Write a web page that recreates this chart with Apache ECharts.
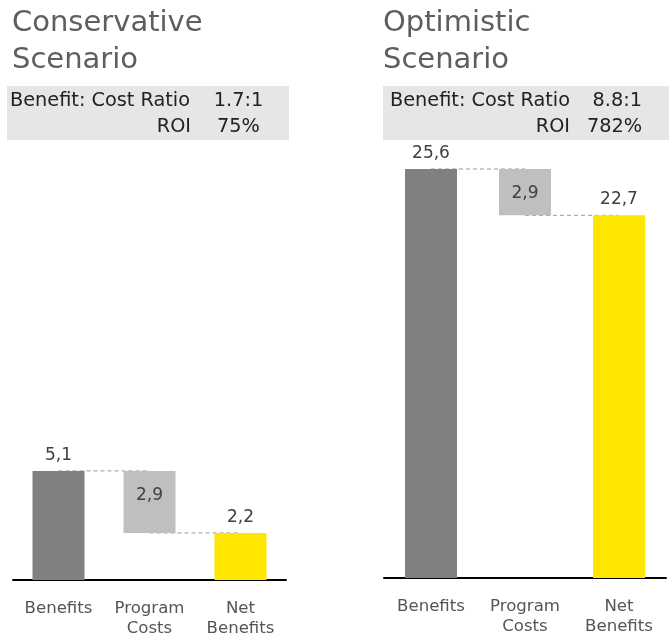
<!DOCTYPE html>
<html>
<head>
<meta charset="utf-8">
<script src="https://cdn.jsdelivr.net/npm/echarts@6/dist/echarts.min.js"></script>
<style>html,body{margin:0;padding:0;background:#fff}#c{width:669px;height:637px}</style>
</head>
<body>
<div id="c"></div>
<script>
var categories = ['Benefits', 'Program\nCosts', 'Net\nBenefits'];
var conservativeValues = [5.1, 2.9, 2.2];
var optimisticValues = [25.6, 2.9, 22.7];
var conservativeRatio = '1.7:1';
var conservativeROI = '75%';
var optimisticRatio = '8.8:1';
var optimisticROI = '782%';

var FONT = 'DejaVu Sans';
var barColors = ['#808080', '#bfbfbf', '#ffe600'];
var labelPos = ['top', 'insideTop', 'top'];

function fmt(v) { return v.toFixed(1).replace('.', ','); }

function buildSeries(vals, idx) {
  var base = [0, vals[2], 0];
  var items = vals.map(function (v, i) {
    return {
      value: v,
      itemStyle: { color: barColors[i] },
      label: { position: labelPos[i], distance: i === 1 ? 16 : 7 }
    };
  });
  return [
    {
      type: 'bar', xAxisIndex: idx, yAxisIndex: idx, stack: 's' + idx,
      data: base, barWidth: 52, itemStyle: { color: 'transparent' }, silent: true, z: 2
    },
    {
      type: 'bar', xAxisIndex: idx, yAxisIndex: idx, stack: 's' + idx,
      data: items, barWidth: 52, z: 2,
      label: {
        show: true, fontFamily: FONT, fontSize: 17, color: '#404040',
        formatter: function (p) { return fmt(p.value); }
      }
    },
    {
      type: 'line', xAxisIndex: idx, yAxisIndex: idx, data: [vals[0], vals[0], '-'],
      symbol: 'none', silent: true, z: 1,
      lineStyle: { type: [4, 3], color: '#999', width: 1 }
    },
    {
      type: 'line', xAxisIndex: idx, yAxisIndex: idx, data: ['-', vals[2], vals[2]],
      symbol: 'none', silent: true, z: 1,
      lineStyle: { type: [4, 3], color: '#999', width: 1 }
    }
  ];
}

function xAxis(gi) {
  return {
    type: 'category', gridIndex: gi, data: categories,
    axisLine: { lineStyle: { color: '#000', width: 2 } },
    axisTick: { show: false },
    axisLabel: { fontFamily: FONT, fontSize: 16.6, color: '#555', lineHeight: 20.5, margin: 18, interval: 0 }
  };
}
function yAxis(gi, max) {
  return { type: 'value', gridIndex: gi, min: 0, max: max, show: false, splitLine: { show: false } };
}

function boxGroup(x, w, textX, textRight, ratio, roi, valX, valAlign, ratioX) {
  var ts = { fontFamily: FONT, fontSize: 19.3, fill: '#222', verticalAlign: 'middle' };
  return [
    { type: 'rect', x: x, y: 86, shape: { width: w, height: 54 }, style: { fill: '#e6e6e6' }, z: 0 },
    { type: 'text', x: textX, y: 101, style: Object.assign({ text: 'Benefit: Cost Ratio', align: 'left' }, ts) },
    { type: 'text', x: ratioX, y: 101, style: Object.assign({ text: ratio, align: valAlign }, ts) },
    { type: 'text', x: textRight, y: 127, style: Object.assign({ text: 'ROI', align: 'right' }, ts) },
    { type: 'text', x: valX, y: 127, style: Object.assign({ text: roi, align: valAlign }, ts) }
  ];
}

var chart = echarts.init(document.getElementById('c'));
var titleStyle = { fontFamily: FONT, fontSize: 29, fill: '#5e5e5e', fontWeight: 'normal', verticalAlign: 'middle' };
chart.setOption({
  animation: false,
  grid: [
    { left: 13, width: 273, top: 150, bottom: 57, outerBoundsMode: 'none', containLabel: false },
    { left: 384, width: 282, top: 150, bottom: 59, outerBoundsMode: 'none', containLabel: false }
  ],
  xAxis: [xAxis(0), xAxis(1)],
  yAxis: [yAxis(0, 20.1), yAxis(1, 26.79)],
  graphic: [
    { type: 'text', x: 12, y: 23, style: Object.assign({ text: 'Conservative' }, titleStyle) },
    { type: 'text', x: 12, y: 60, style: Object.assign({ text: 'Scenario' }, titleStyle) },
    { type: 'text', x: 383, y: 23, style: Object.assign({ text: 'Optimistic' }, titleStyle) },
    { type: 'text', x: 383, y: 60, style: Object.assign({ text: 'Scenario' }, titleStyle) }
  ].concat(boxGroup(7, 282, 10, 191, conservativeRatio, conservativeROI, 238.5, 'center', 238.5))
   .concat(boxGroup(383, 286, 390, 570, optimisticRatio, optimisticROI, 642, 'right', 642)),
  series: buildSeries(conservativeValues, 0).concat(buildSeries(optimisticValues, 1))
});
</script>
</body>
</html>
